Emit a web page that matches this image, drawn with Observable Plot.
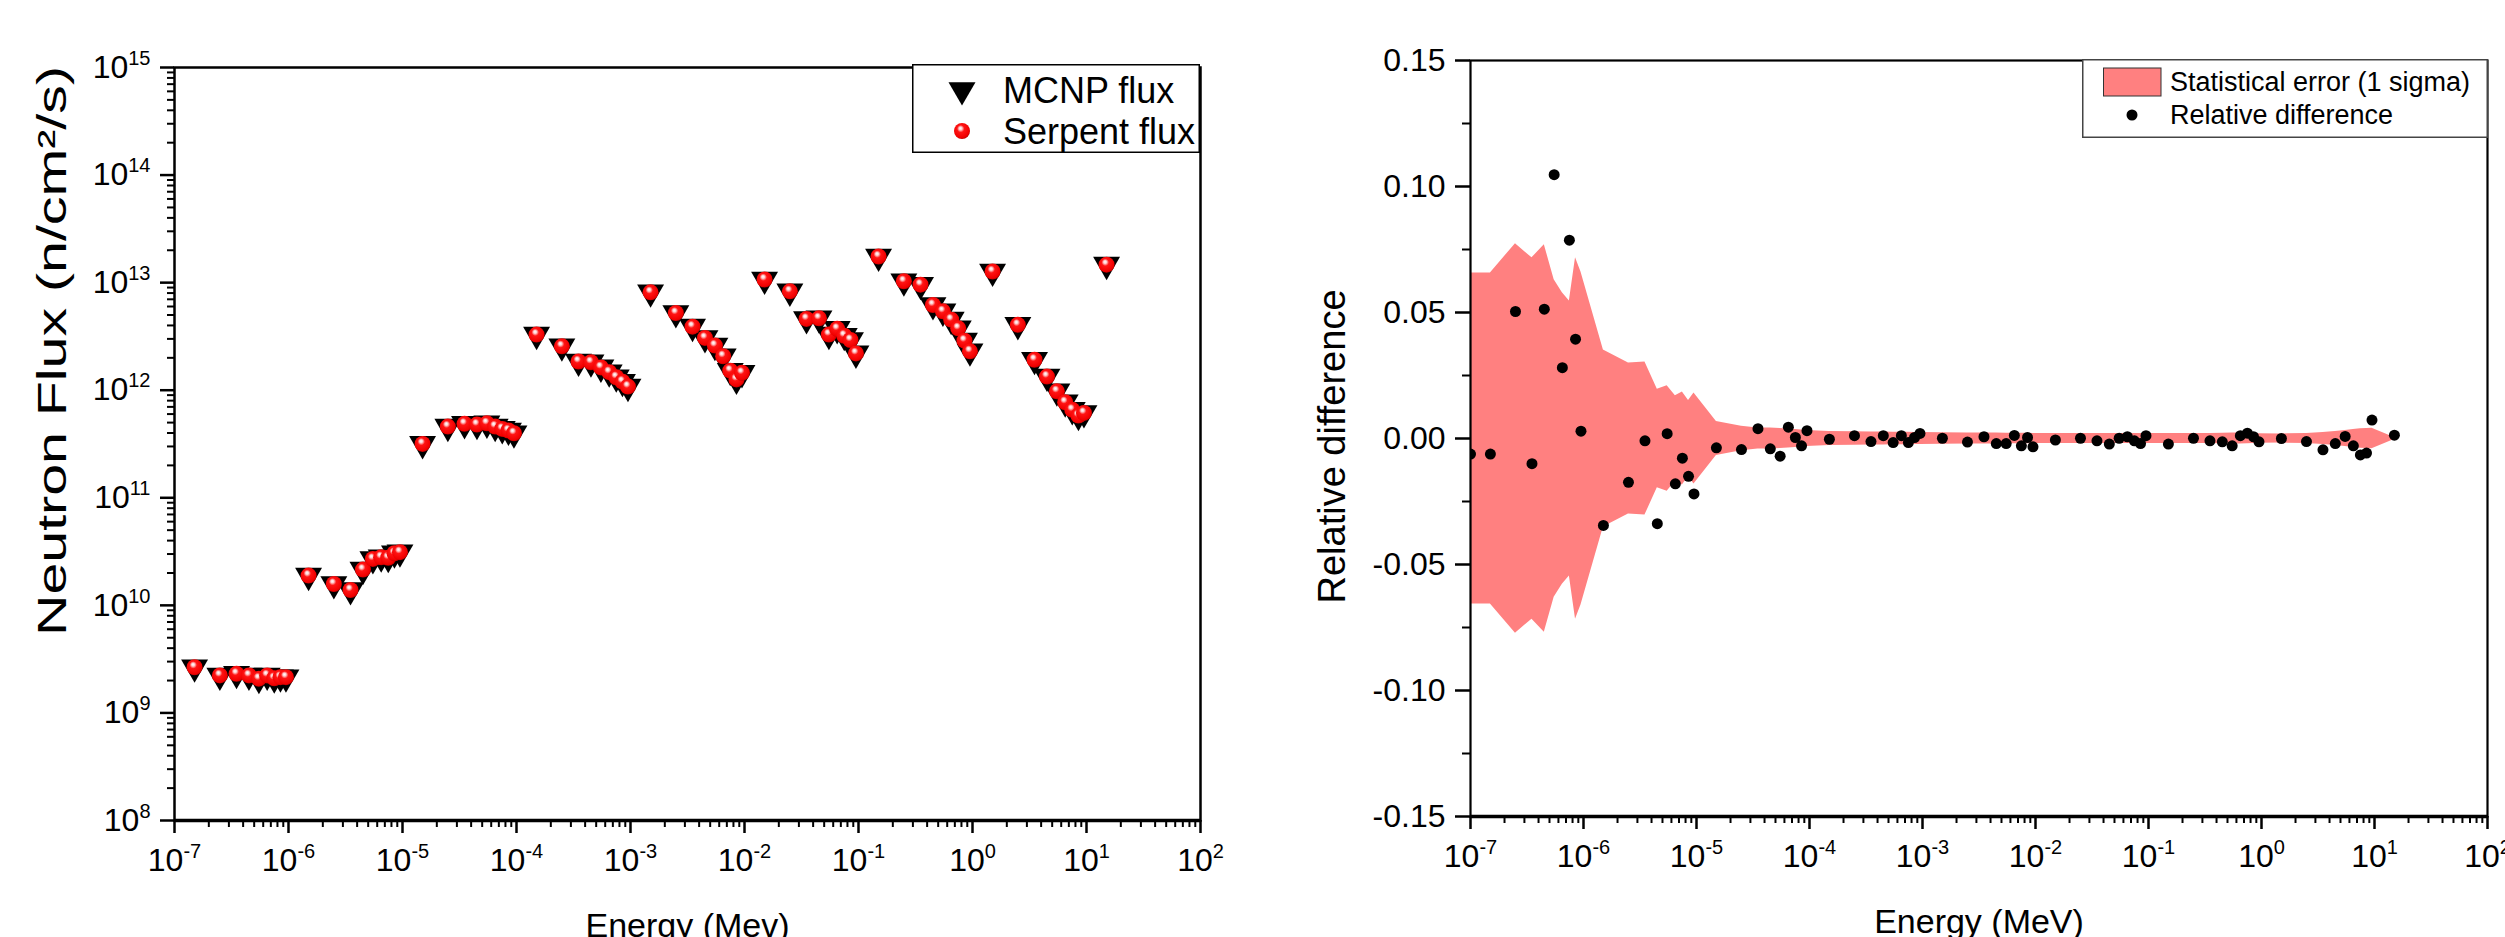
<!DOCTYPE html>
<html><head><meta charset="utf-8">
<script src="https://cdn.jsdelivr.net/npm/d3@7"></script>
<script src="https://cdn.jsdelivr.net/npm/@observablehq/plot@0.6"></script>
<style>
html,body{margin:0;padding:0;background:#fff;}
body{width:2505px;height:937px;position:relative;overflow:hidden;font-family:"Liberation Sans",Arial,sans-serif;}
#left{position:absolute;left:0;top:0;}
#right{position:absolute;left:1250px;top:0;}
.legend{position:absolute;overflow:visible;}
</style></head><body>
<svg width="0" height="0" style="position:absolute;left:0;top:0"><defs>
<radialGradient id="sphere" cx="0.45" cy="0.42" r="0.6" fx="0.4" fy="0.32">
<stop offset="0" stop-color="#ffffff"/>
<stop offset="0.16" stop-color="#ffd0d0"/>
<stop offset="0.38" stop-color="#ff1414"/>
<stop offset="0.85" stop-color="#f00000"/>
<stop offset="1" stop-color="#b40000"/>
</radialGradient></defs></svg>
<div id="left"></div>
<div id="right"></div>
<svg class="legend" id="legL" style="left:912px;top:64px" width="288" height="89"></svg>
<svg class="legend" id="legR" style="left:2082px;top:59px" width="406" height="79"></svg>
<script>
const FONT = '"Liberation Sans", Arial, sans-serif';

// ---------- Left chart: neutron flux ----------
const fluxEnergy = [
  1.5e-7,2.5e-7,3.5e-7,4.5e-7,5.5e-7,6.5e-7,7.5e-7,8.5e-7,9.5e-7,
  1.5e-6,2.5e-6,3.5e-6,4.5e-6,5.5e-6,6.5e-6,7.5e-6,8.5e-6,9.5e-6,
  1.5e-5,2.5e-5,3.5e-5,4.5e-5,5.5e-5,6.5e-5,7.5e-5,8.5e-5,9.5e-5,
  1.5e-4,2.5e-4,3.5e-4,4.5e-4,5.5e-4,6.5e-4,7.5e-4,8.5e-4,9.5e-4,
  1.5e-3,2.5e-3,3.5e-3,4.5e-3,5.5e-3,6.5e-3,7.5e-3,8.5e-3,9.5e-3,
  1.5e-2,2.5e-2,3.5e-2,4.5e-2,5.5e-2,6.5e-2,7.5e-2,8.5e-2,9.5e-2,
  1.5e-1,2.5e-1,3.5e-1,4.5e-1,5.5e-1,6.5e-1,7.5e-1,8.5e-1,9.5e-1,
  1.5,2.5,3.5,4.5,5.5,6.5,7.5,8.5,9.5,
  15
];
const mcnpFlux = [
  2.66e9,2.23e9,2.31e9,2.23e9,2.08e9,2.23e9,2.10e9,2.15e9,2.15e9,
  1.89e10,1.58e10,1.39e10,2.15e10,2.70e10,2.80e10,2.77e10,3.05e10,3.12e10,
  3.17e11,4.59e11,4.87e11,4.79e11,4.92e11,4.59e11,4.37e11,4.22e11,3.98e11,
  3.29e12,2.56e12,1.85e12,1.82e12,1.63e12,1.47e12,1.32e12,1.20e12,1.08e12,
  8.13e12,5.22e12,3.90e12,3.06e12,2.60e12,2.07e12,1.52e12,1.26e12,1.45e12,
  1.07e13,8.30e12,4.60e12,4.66e12,3.29e12,3.72e12,3.21e12,2.93e12,2.20e12,
  1.75e13,1.03e13,9.57e12,6.20e12,5.41e12,4.53e12,3.76e12,2.89e12,2.30e12,
  1.27e13,4.05e12,1.92e12,1.34e12,9.77e11,7.73e11,6.57e11,5.81e11,6.15e11,
  1.47e13
];
const serpentFlux = [
  2.66e9,2.23e9,2.31e9,2.23e9,2.08e9,2.23e9,2.10e9,2.15e9,2.15e9,
  1.89e10,1.58e10,1.39e10,2.15e10,2.70e10,2.80e10,2.77e10,3.05e10,3.12e10,
  3.17e11,4.59e11,4.87e11,4.79e11,4.92e11,4.59e11,4.37e11,4.22e11,3.98e11,
  3.29e12,2.56e12,1.85e12,1.82e12,1.63e12,1.47e12,1.32e12,1.20e12,1.08e12,
  8.13e12,5.22e12,3.90e12,3.06e12,2.60e12,2.07e12,1.52e12,1.26e12,1.45e12,
  1.07e13,8.30e12,4.60e12,4.66e12,3.29e12,3.72e12,3.21e12,2.93e12,2.20e12,
  1.75e13,1.03e13,9.57e12,6.20e12,5.41e12,4.53e12,3.76e12,2.89e12,2.30e12,
  1.27e13,4.05e12,1.92e12,1.34e12,9.77e11,7.73e11,6.57e11,5.81e11,6.15e11,
  1.47e13
];

// ---------- Right chart: relative difference ----------
const diffEnergy = [
  1.0e-7,
  1.5e-7,2.5e-7,3.5e-7,4.5e-7,5.5e-7,6.5e-7,7.5e-7,8.5e-7,9.5e-7,
  1.5e-6,2.5e-6,3.5e-6,4.5e-6,5.5e-6,6.5e-6,7.5e-6,8.5e-6,9.5e-6,
  1.5e-5,2.5e-5,3.5e-5,4.5e-5,5.5e-5,6.5e-5,7.5e-5,8.5e-5,9.5e-5,
  1.5e-4,2.5e-4,3.5e-4,4.5e-4,5.5e-4,6.5e-4,7.5e-4,8.5e-4,9.5e-4,
  1.5e-3,2.5e-3,3.5e-3,4.5e-3,5.5e-3,6.5e-3,7.5e-3,8.5e-3,9.5e-3,
  1.5e-2,2.5e-2,3.5e-2,4.5e-2,5.5e-2,6.5e-2,7.5e-2,8.5e-2,9.5e-2,
  1.5e-1,2.5e-1,3.5e-1,4.5e-1,5.5e-1,6.5e-1,7.5e-1,8.5e-1,9.5e-1,
  1.5,2.5,3.5,4.5,5.5,6.5,7.5,8.5,9.5,
  15
];
const relDiff = [
  -0.0062,
  -0.0062,0.0504,-0.0100,0.0513,0.1047,0.0281,0.0787,0.0394,0.0029,
  -0.0345,-0.0174,-0.0009,-0.0338,0.0019,-0.0180,-0.0078,-0.0150,-0.0220,
  -0.0037,-0.0044,0.0039,-0.0041,-0.0070,0.0045,0.0004,-0.0029,0.0031,
  -0.0003,0.0011,-0.0012,0.0011,-0.0016,0.0011,-0.0016,0.0004,0.0020,
  0.0001,-0.0014,0.0007,-0.0020,-0.0020,0.0012,-0.0029,0.0004,-0.0033,
  -0.0006,0.0001,-0.0009,-0.0022,0.0001,0.0007,-0.0009,-0.0020,0.0011,
  -0.0022,0.0001,-0.0009,-0.0013,-0.0029,0.0011,0.0021,0.0007,-0.0013,
  0.0000,-0.0012,-0.0045,-0.0020,0.0008,-0.0029,-0.0065,-0.0058,0.0073,
  0.0013
];
const sigma = [
  0.0657,
  0.0657,0.0773,0.0717,0.0769,0.0630,0.0578,0.0546,0.0717,0.0661,
  0.0351,0.0300,0.0304,0.0195,0.0209,0.0170,0.0185,0.0151,0.0181,
  0.0067,0.0049,0.0042,0.0042,0.0040,0.0038,0.0036,0.0034,0.0032,
  0.0028,0.0027,0.0026,0.0026,0.0025,0.0025,0.0025,0.0024,0.0024,
  0.0023,0.0022,0.0022,0.0022,0.0021,0.0021,0.0021,0.0021,0.0020,
  0.0020,0.0020,0.0020,0.0020,0.0020,0.0020,0.0020,0.0020,0.0020,
  0.0020,0.0020,0.0020,0.0021,0.0022,0.0022,0.0021,0.0020,0.0019,
  0.0018,0.0020,0.0024,0.0028,0.0032,0.0036,0.0039,0.0040,0.0041,
  0.0004
];

// ---------- Axis ticks ----------
const majorLogTicks = [1e-7,1e-6,1e-5,1e-4,1e-3,1e-2,1e-1,1e0,1e1,1e2];
const fluxTicks = [1e8,1e9,1e10,1e11,1e12,1e13,1e14,1e15];
const diffTicks = [-0.15,-0.10,-0.05,0,0.05,0.10,0.15];
const diffMinorTicks = [-0.125,-0.075,-0.025,0.025,0.075,0.125];
const minorMult = [2,3,4,5,6,7,8,9];
function minorsOf(majors) {
  const out = [];
  for (let i = 0; i < majors.length - 1; i++) for (const m of minorMult) out.push(majors[i] * m);
  return out;
}
const supFmt = v => "10^" + Math.round(Math.log10(v));

const fluxRows = fluxEnergy.map((e, i) => ({e, mcnp: mcnpFlux[i], serpent: serpentFlux[i]}));
const diffRows = diffEnergy.map((e, i) => ({e, d: relDiff[i], s: sigma[i]}));

const TICK_FS = 32;

const leftPlot = Plot.plot({
  width: 1250, height: 937,
  marginLeft: 174, marginRight: 50, marginTop: 67, marginBottom: 117,
  style: {fontFamily: FONT, fontSize: TICK_FS + "px", color: "#000", background: "transparent"},
  x: {type: "log", domain: [1e-7, 1e2]},
  y: {type: "log", domain: [1e8, 1e15]},
  marks: [
    Plot.dot(fluxRows, {x: "e", y: "mcnp", symbol: "triangle", rotate: 180, r: 10, fill: "#000"}),
    Plot.dot(fluxRows, {x: "e", y: "serpent", r: 8, fill: "url(#sphere)"}),
    Plot.frame({stroke: "#000", strokeWidth: 2.5}),
    Plot.ruleY([1e8], {stroke: "#000", strokeWidth: 3.5}),
    Plot.axisX({ticks: minorsOf(majorLogTicks), tickSize: 7, tickFormat: () => "", strokeWidth: 2, label: null}),
    Plot.axisX({ticks: majorLogTicks, tickSize: 13, tickPadding: 15, tickFormat: supFmt, strokeWidth: 2.5, label: null}),
    Plot.axisY({ticks: minorsOf(fluxTicks), tickSize: 7, tickFormat: () => "", strokeWidth: 2, label: null}),
    Plot.axisY({ticks: fluxTicks, tickSize: 14, tickPadding: 10, tickFormat: supFmt, strokeWidth: 2.5, label: null}),
    Plot.text(["Energy (Mev)"], {text: d => d, frameAnchor: "bottom", lineAnchor: "bottom", dy: 116, fontSize: 34}),
    Plot.text(["Neutron Flux (n/cm²/s)"], {text: d => d, frameAnchor: "left", textAnchor: "middle", lineAnchor: "middle", rotate: -90, dx: -121, dy: -93, fontSize: 40, ariaLabel: "ytitle"})
  ]
});

const rightPlot = Plot.plot({
  width: 1255, height: 937,
  marginLeft: 220, marginRight: 18, marginTop: 60, marginBottom: 121,
  style: {fontFamily: FONT, fontSize: TICK_FS + "px", color: "#000", background: "transparent"},
  x: {type: "log", domain: [1e-7, 1e2]},
  y: {domain: [-0.15, 0.15]},
  marks: [
    Plot.areaY(diffRows, {x: "e", y1: d => -d.s, y2: d => d.s, fill: "#ff8080"}),
    Plot.dot(diffRows, {x: "e", y: "d", r: 5.5, fill: "#000", clip: true}),
    Plot.frame({stroke: "#000", strokeWidth: 2.2}),
    Plot.ruleY([-0.15], {stroke: "#000", strokeWidth: 3.5}),
    Plot.axisX({ticks: minorsOf(majorLogTicks), tickSize: 7, tickFormat: () => "", strokeWidth: 2, label: null}),
    Plot.axisX({ticks: majorLogTicks, tickSize: 13, tickPadding: 15, tickFormat: supFmt, strokeWidth: 2.5, label: null}),
    Plot.axisY({ticks: diffMinorTicks, tickSize: 8, tickFormat: () => "", strokeWidth: 2, label: null}),
    Plot.axisY({ticks: diffTicks, tickSize: 15, tickPadding: 10, tickFormat: v => Math.abs(v) < 1e-9 ? "0.00" : v.toFixed(2), strokeWidth: 2.5, label: null}),
    Plot.text(["Energy (MeV)"], {text: d => d, frameAnchor: "bottom", lineAnchor: "bottom", dy: 116, fontSize: 34}),
    Plot.text(["Relative difference"], {text: d => d, frameAnchor: "left", textAnchor: "middle", lineAnchor: "middle", rotate: -90, dx: -138, dy: 8, fontSize: 38})
  ]
});

const NS = "http://www.w3.org/2000/svg";
function supify(svg) {
  svg.querySelectorAll("text").forEach(t => {
    const s = t.textContent;
    if (!s.includes("^")) return;
    const [b, e] = s.split("^");
    t.textContent = "";
    const t1 = document.createElementNS(NS, "tspan");
    t1.textContent = b;
    t.appendChild(t1);
    const t2 = document.createElementNS(NS, "tspan");
    t2.textContent = e;
    t2.setAttribute("font-size", Math.round(TICK_FS * 0.64));
    t2.setAttribute("dy", -Math.round(TICK_FS * 0.42));
    t.appendChild(t2);
  });
}
supify(leftPlot);
supify(rightPlot);
// stretch the left axis title to the length it has in the reference
leftPlot.querySelectorAll("text").forEach(t => {
  if (t.textContent === "Neutron Flux (n/cm²/s)") {
    t.setAttribute("textLength", 570);
    t.setAttribute("lengthAdjust", "spacingAndGlyphs");
  }
});
document.getElementById("left").appendChild(leftPlot);
document.getElementById("right").appendChild(rightPlot);

// ---------- Legends ----------
function el(parent, name, attrs, text) {
  const n = document.createElementNS(NS, name);
  for (const k in attrs) n.setAttribute(k, attrs[k]);
  if (text != null) n.textContent = text;
  parent.appendChild(n);
  return n;
}
const legL = document.getElementById("legL");
el(legL, "rect", {x: 0.75, y: 0.75, width: 286.5, height: 87.5, fill: "#fff", stroke: "#000", "stroke-width": 1.5});
el(legL, "path", {d: "M36.5,18.2L63.5,18.2L50,41.6Z", fill: "#000"});
el(legL, "circle", {cx: 50, cy: 67, r: 8, fill: "url(#sphere)"});
el(legL, "text", {x: 91, y: 26, "font-family": FONT, "font-size": 36, "dominant-baseline": "central"}, "MCNP flux");
el(legL, "text", {x: 91, y: 67, "font-family": FONT, "font-size": 36, "dominant-baseline": "central"}, "Serpent flux");

const legR = document.getElementById("legR");
el(legR, "rect", {x: 0.75, y: 0.75, width: 404.5, height: 77.5, fill: "#fff", stroke: "#444", "stroke-width": 1.5});
el(legR, "rect", {x: 21.5, y: 9, width: 57.5, height: 28, fill: "#ff8080", stroke: "#333", "stroke-width": 1});
el(legR, "circle", {cx: 50, cy: 56, r: 5.5, fill: "#000"});
el(legR, "text", {x: 88, y: 23, "font-family": FONT, "font-size": 27, "dominant-baseline": "central"}, "Statistical error (1 sigma)");
el(legR, "text", {x: 88, y: 56, "font-family": FONT, "font-size": 27, "dominant-baseline": "central"}, "Relative difference");
</script>
</body></html>
